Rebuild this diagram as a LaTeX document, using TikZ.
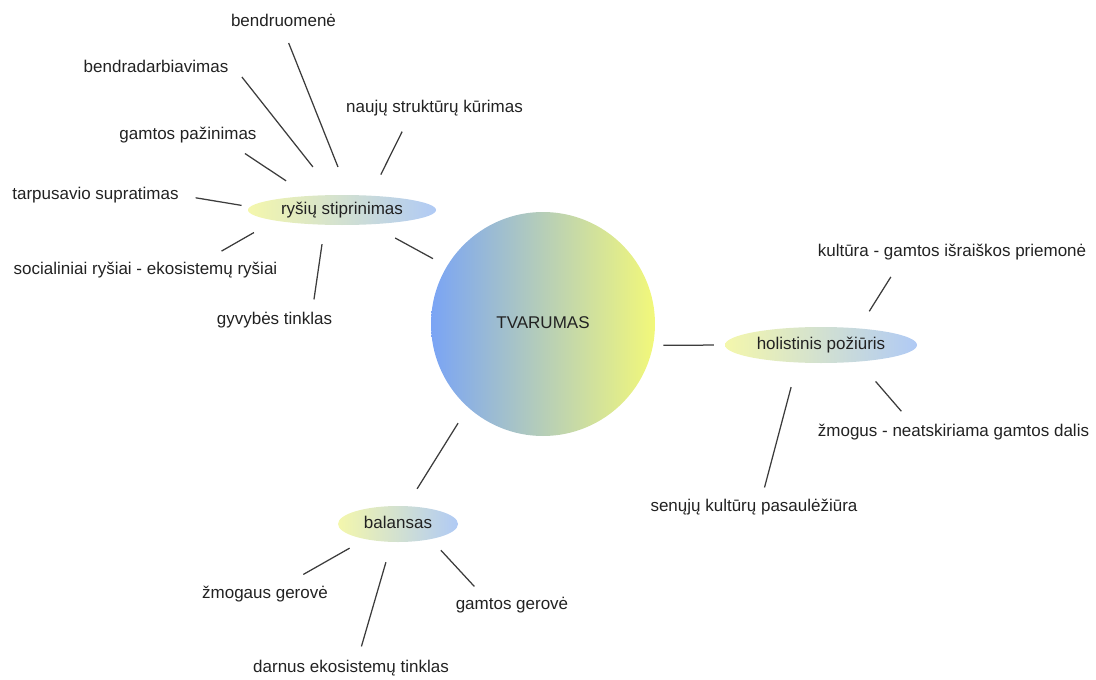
\documentclass[tikz,border=0pt]{standalone}
\usepackage{fontspec}
\setmainfont{Liberation Sans}
\usetikzlibrary{shapes.geometric}

\definecolor{linegray}{RGB}{60,60,60}
\definecolor{txtgray}{RGB}{34,34,34}
\definecolor{cblue}{RGB}{122,164,245}
\definecolor{cyellow}{RGB}{242,248,122}
\definecolor{eyellow}{RGB}{244,247,172}
\definecolor{eblue}{RGB}{176,202,245}

\tikzset{
	lbl/.style={inner sep=0pt, text height=12pt, text depth=3.6pt, text=txtgray},
	branch/.style={ellipse, lbl, left color=eyellow, right color=eblue},
	spoke/.style={draw=linegray, line width=1.25pt},
}

\begin{document}
\begin{tikzpicture}[x=1pt, y=-1pt, font=\fontsize{17}{20}\selectfont]
		\useasboundingbox (0,0) rectangle (1096,680);
		% centre and the three branches
		\node[circle, lbl, minimum size=224pt, left color=cblue, right color=cyellow] (tvar) at (543,324) {TVARUMAS};
		\node[branch, minimum width=188pt, minimum height=30pt] (rysiai) at (342,210) {ryšių stiprinimas};
		\node[branch, minimum width=192pt, minimum height=36pt] (holist) at (821,345) {holistinis požiūris};
		\node[branch, minimum width=120pt, minimum height=36pt] (balans) at (398,524) {balansas};
		% leaves
		\foreach \nm/\pos/\txt in {
			bendr/{283.5,22}/bendruomenė,
			bendrad/{156,68}/bendradarbiavimas,
			gpaz/{188,135}/gamtos pažinimas,
			nauj/{434.5,108}/naujų struktūrų kūrimas,
			tarp/{95.5,195}/tarpusavio supratimas,
			soc/{145.5,270}/socialiniai ryšiai - ekosistemų ryšiai,
			gyv/{274.5,320}/gyvybės tinklas,
			kult/{952,252}/kultūra - gamtos išraiškos priemonė,
			zmog/{953.5,432}/žmogus - neatskiriama gamtos dalis,
			senuj/{754,507}/senųjų kultūrų pasaulėžiūra,
			zger/{265,594}/žmogaus gerovė,
			darn/{351,668}/darnus ekosistemų tinklas,
			gger/{512,605}/gamtos gerovė
		} {
			\node[lbl] (\nm) at (\pos) {\txt};
		}
		% spokes
		\foreach \na/\nb/\da/\db in {
			bendr.south/rysiai.65/14pt/30pt,
			bendrad.north east/rysiai.115/21.6pt/35.6pt,
			gpaz.-11/rysiai.157/19pt/27pt,
			nauj.198/rysiai.27/17.4pt/23.3pt,
			tarp.east/rysiai.178/17pt/8.5pt,
			soc.8/rysiai.189/22pt/24pt,
			gyv.12/rysiai.221/12.7pt/19.4pt,
			rysiai.-27/tvar.149/28.2pt/15.8pt,
			tvar.-11/holist.west/10.2pt/11pt,
			kult.189/holist.24/20pt/20pt,
			zmog.169/holist.-24/16.8pt/26pt,
			senuj.47/holist.217/11.9pt/25.3pt,
			tvar.228/balans.65/18.6pt/20.2pt,
			zger.24/balans.205/23.4pt/18pt,
			darn.51/balans.251/14.1pt/20.9pt,
			gger.164/balans.-25/14.4pt/15pt
		} {
			\draw[spoke, shorten <=\da, shorten >=\db] (\na) -- (\nb);
		}
\end{tikzpicture}
\end{document}
